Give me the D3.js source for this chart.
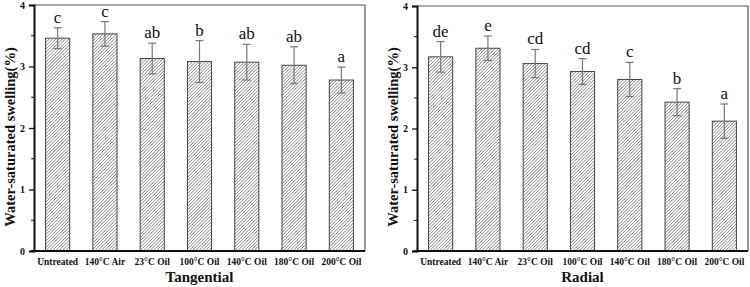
<!DOCTYPE html>
<html>
<head>
<meta charset="utf-8">
<script src="https://cdn.jsdelivr.net/npm/d3@7"></script>
<style>
  body { margin: 0; background: #fff; }
  text { font-family: "Liberation Serif", "Times New Roman", serif; }
</style>
</head>
<body>
<svg id="chart"></svg>
<script>
// data
const categories = ["Untreated", "140°C Air", "23°C Oil", "100°C Oil", "140°C Oil", "180°C Oil", "200°C Oil"];
const tangentialMean = [3.46, 3.53, 3.13, 3.08, 3.07, 3.02, 2.78];
const tangentialSD   = [0.17, 0.20, 0.25, 0.34, 0.29, 0.30, 0.21];
const tangentialLetters = ["c", "c", "ab", "b", "ab", "ab", "a"];
const radialMean = [3.17, 3.31, 3.06, 2.93, 2.80, 2.43, 2.12];
const radialSD   = [0.25, 0.20, 0.23, 0.21, 0.28, 0.22, 0.28];
const radialLetters = ["de", "e", "cd", "cd", "c", "b", "a"];
const yTicks = [0, 1, 2, 3, 4];
const yMinorTicks = [0.5, 1.5, 2.5, 3.5];

const width = 750, height = 287;
const svg = d3.select("#chart")
    .attr("width", width)
    .attr("height", height);

// hatch pattern
const hs = 2.3;
const defs = svg.append("defs");
const pat = defs.append("pattern")
    .attr("id", "hatch")
    .attr("patternUnits", "userSpaceOnUse")
    .attr("width", hs)
    .attr("height", hs)
    .attr("patternTransform", "rotate(45)");
pat.append("rect").attr("width", hs).attr("height", hs).attr("fill", "#fff");
pat.append("line")
    .attr("x1", 0).attr("y1", 0).attr("x2", 0).attr("y2", hs)
    .attr("stroke", "#3a3a3a").attr("stroke-width", 0.9);

function drawPanel(left, right, top, bottom, means, sds, letters, title) {
    const g = svg.append("g");

    const x = d3.scaleBand()
        .domain(categories)
        .range([left, right])
        .paddingInner(0.49)
        .paddingOuter(0.245);
    const y = d3.scaleLinear().domain([0, 4]).range([bottom, top]);

    // frame top/right
    g.append("path")
        .attr("d", `M${left},${top}H${right}V${bottom}`)
        .attr("fill", "none")
        .attr("stroke", "#555")
        .attr("stroke-width", 1.2);

    const rows = categories.map((c, i) => ({ c, m: means[i], sd: sds[i], l: letters[i] }));

    // bars
    g.selectAll("rect.bar")
        .data(rows)
        .join("rect")
        .attr("class", "bar")
        .attr("x", d => x(d.c))
        .attr("y", d => y(d.m))
        .attr("width", x.bandwidth())
        .attr("height", d => y(0) - y(d.m))
        .attr("fill", "url(#hatch)")
        .attr("stroke", "#444")
        .attr("stroke-width", 1);

    // error bars
    const cap = 4;
    const eb = g.selectAll("g.err").data(rows).join("g").attr("class", "err")
        .attr("stroke", "#777").attr("stroke-width", 1.2);
    eb.append("line")
        .attr("x1", d => x(d.c) + x.bandwidth() / 2)
        .attr("x2", d => x(d.c) + x.bandwidth() / 2)
        .attr("y1", d => y(d.m - d.sd))
        .attr("y2", d => y(d.m + d.sd));
    eb.append("line")
        .attr("x1", d => x(d.c) + x.bandwidth() / 2 - cap)
        .attr("x2", d => x(d.c) + x.bandwidth() / 2 + cap)
        .attr("y1", d => y(d.m + d.sd))
        .attr("y2", d => y(d.m + d.sd));
    eb.append("line")
        .attr("x1", d => x(d.c) + x.bandwidth() / 2 - cap)
        .attr("x2", d => x(d.c) + x.bandwidth() / 2 + cap)
        .attr("y1", d => y(d.m - d.sd))
        .attr("y2", d => y(d.m - d.sd));

    // letters
    g.selectAll("text.letter")
        .data(rows)
        .join("text")
        .attr("class", "letter")
        .attr("x", d => x(d.c) + x.bandwidth() / 2)
        .attr("y", d => y(d.m + d.sd) - 5)
        .attr("text-anchor", "middle")
        .attr("font-size", 17)
        .attr("fill", "#111")
        .text(d => d.l);

    // y axis
    const yAxis = g.append("g")
        .attr("transform", `translate(${left},0)`)
        .call(d3.axisLeft(y).tickValues(yTicks).tickSize(5).tickPadding(4).tickFormat(d3.format("d")));
    yAxis.select(".domain").attr("stroke", "#111").attr("stroke-width", 2);
    yAxis.selectAll(".tick line").attr("stroke", "#111").attr("stroke-width", 1.3);
    yAxis.selectAll(".tick text")
        .attr("font-family", "Liberation Serif")
        .attr("font-weight", "bold")
        .attr("font-size", 10)
        .attr("fill", "#111");
    g.append("g")
        .attr("transform", `translate(${left},0)`)
        .selectAll("line")
        .data(yMinorTicks)
        .join("line")
        .attr("x1", -3).attr("x2", 0)
        .attr("y1", d => y(d)).attr("y2", d => y(d))
        .attr("stroke", "#111").attr("stroke-width", 1);

    // x axis
    const xAxis = g.append("g")
        .attr("transform", `translate(0,${bottom})`)
        .call(d3.axisBottom(x).tickSize(0).tickPadding(7));
    xAxis.select(".domain")
        .attr("d", `M${left - 3},0H${right}`)
        .attr("stroke", "#111").attr("stroke-width", 2);
    xAxis.selectAll(".tick text")
        .attr("font-family", "Liberation Serif")
        .attr("font-weight", "bold")
        .attr("font-size", 9.5)
        .attr("fill", "#111");

    // titles
    g.append("text")
        .attr("x", (left + right) / 2)
        .attr("y", 282)
        .attr("text-anchor", "middle")
        .attr("font-weight", "bold")
        .attr("font-size", 15)
        .attr("fill", "#111")
        .text(title);
    g.append("text")
        .attr("transform", `translate(${left - 19},137) rotate(-90)`)
        .attr("text-anchor", "middle")
        .attr("font-weight", "bold")
        .attr("font-size", 14.5)
        .attr("fill", "#111")
        .text("Water-saturated swelling(%)");
}

drawPanel(34, 365, 5, 251, tangentialMean, tangentialSD, tangentialLetters, "Tangential");
drawPanel(417, 748, 6, 251, radialMean, radialSD, radialLetters, "Radial");
</script>
</body>
</html>
